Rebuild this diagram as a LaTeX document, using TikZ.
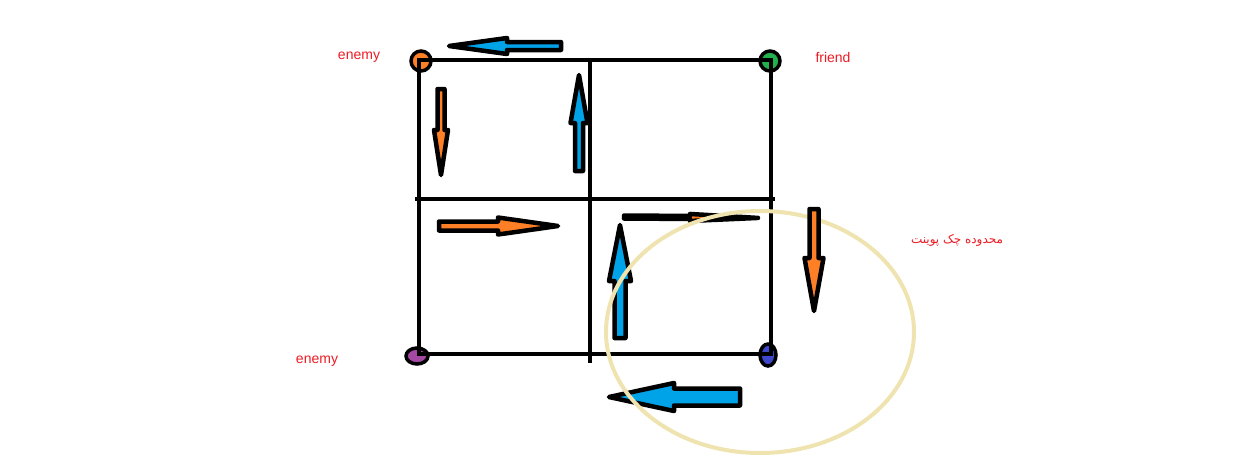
\documentclass[tikz,border=0pt]{standalone}
\usepackage{fontspec}
\setmainfont{Liberation Sans}
\newfontfamily\arabicfont[Script=Arabic]{DejaVu Sans}
\TeXXeTstate=1
\definecolor{pred}{RGB}{237,28,36}
\definecolor{porange}{RGB}{255,127,39}
\definecolor{pblue}{RGB}{0,162,232}
\definecolor{pgreen}{RGB}{34,177,76}
\definecolor{ppurple}{RGB}{163,73,164}
\definecolor{pindigo}{RGB}{63,72,204}
\definecolor{pbeige}{RGB}{239,228,176}
\tikzset{
  gridline/.style={line width=4.5pt, line cap=rect},
  cornerdot/.style={draw=black, line width=3.5pt},
  arrowline/.style={draw=black, line width=4.5pt, line join=round},
  lbl/.style={text=pred, font=\fontsize{14}{16}\selectfont, inner sep=0pt},
}
% #1 fill, #2 x, #3 y, #4 angle, #5 length, #6 head length, #7 shaft half width, #8 head half width
\newcommand{\blockarrow}[8]{%
  \begin{scope}[shift={(#2,#3)}, rotate=#4]
    \draw[arrowline, fill=#1] (0,-#7) -- ({#5-#6},-#7) -- ({#5-#6},-#8) -- (#5,0)
      -- ({#5-#6},#8) -- ({#5-#6},#7) -- (0,#7) -- cycle;
  \end{scope}}
\begin{document}
\begin{tikzpicture}[x=1pt, y=-1pt]
\useasboundingbox[fill=white] (0,0) rectangle (1242,461);
% corner dots
\draw[cornerdot, fill=porange] (421,61) circle (10);
\draw[cornerdot, fill=pgreen] (770,61) circle (10);
\draw[cornerdot, fill=ppurple] (417,356) ellipse (11 and 8);
\draw[cornerdot, fill=pindigo] (768,355) ellipse (8 and 11);
% grid
\coordinate (tl) at (419,60);
\coordinate (tr) at (771,60);
\coordinate (bl) at (419,354);
\coordinate (br) at (771,354);
\draw[gridline] (tl) -- (tr) -- (br) -- (bl) -- cycle;
\draw[gridline] (417,199) -- (773,199);
\draw[gridline] (590,60) -- (590,361);
% arrows
\blockarrow{pblue}{561}{46}{180}{112}{58}{4}{8}
\blockarrow{porange}{441}{89}{-90}{86}{45}{3.5}{7}
\blockarrow{pblue}{579}{171}{90}{96}{48}{4}{8.5}
\blockarrow{porange}{439}{226}{0}{119}{60}{4.5}{8.5}
\blockarrow{porange}{624}{217}{-0.4}{134}{68}{1.5}{3.5}
\blockarrow{pblue}{620}{338}{90}{113}{56}{5.5}{11}
\blockarrow{pblue}{740}{397}{180}{131}{65}{8.5}{14}
% checkpoint area
\draw[pbeige, line width=4pt] (760,332) ellipse (154 and 121);
\blockarrow{porange}{814}{209}{-90}{102}{53}{4.5}{9.5}
% labels
\node[lbl] (enemy1) at (359,57) {enemy};
\node[lbl] (friend) at (833,57) {friend};
\node[lbl] (enemy2) at (317,361) {enemy};
\node[text=pred, inner sep=0pt, font=\fontsize{12}{14}\selectfont] (area) at (957,240) {\arabicfont\beginR محدوده چک پوینت\endR};
\end{tikzpicture}
\end{document}
